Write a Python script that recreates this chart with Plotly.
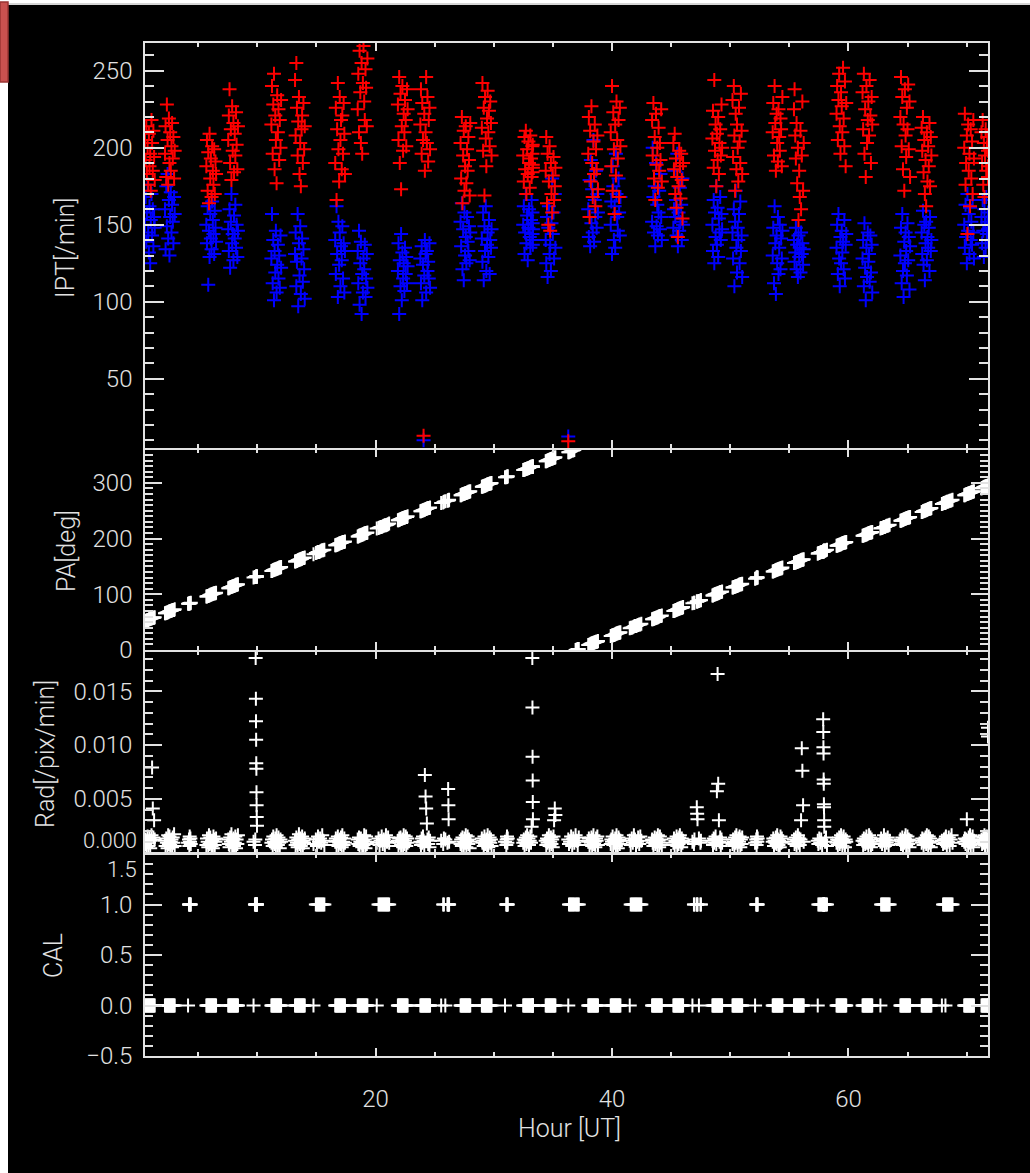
import plotly.graph_objects as go

# ---------------- data ----------------
# observation times [hour UT]; one line per observing block
HOURS = [
    0.50, 0.55, 0.61, 0.66, 0.72, 0.77, 0.83, 0.88, 0.94, 0.99, 1.05, 1.10, 1.16, 1.21, 1.27, 1.32,
    2.19, 2.24, 2.30, 2.35, 2.41, 2.46, 2.52, 2.57, 2.63, 2.68, 2.74, 2.79, 2.85, 2.90, 2.96, 3.01,
    4.14, 4.22, 4.25, 4.28, 4.31, 4.34, 4.37,
    5.69, 5.74, 5.80, 5.85, 5.91, 5.96, 6.02, 6.07, 6.13, 6.18, 6.24, 6.29, 6.35, 6.40, 6.46, 6.51,
    7.54, 7.59, 7.65, 7.70, 7.76, 7.81, 7.87, 7.92, 7.98, 8.03, 8.09, 8.14, 8.20, 8.25, 8.31, 8.36,
    9.68, 9.80, 9.83, 9.86, 9.88, 9.89, 9.90, 9.91, 9.92, 9.93, 9.94, 9.95, 9.97,
    11.19, 11.24, 11.30, 11.35, 11.41, 11.46, 11.52, 11.57, 11.63, 11.68, 11.74, 11.79, 11.85, 11.90, 11.96, 12.01,
    13.19, 13.24, 13.30, 13.35, 13.41, 13.46, 13.52, 13.57, 13.63, 13.68, 13.74, 13.79, 13.85, 13.90, 13.96, 14.01,
    14.75, 14.95, 15.04, 15.13, 15.22, 15.31, 15.40, 15.49, 15.58, 15.67,
    16.59, 16.64, 16.70, 16.75, 16.81, 16.86, 16.92, 16.97, 17.03, 17.08, 17.14, 17.19, 17.25, 17.30, 17.36, 17.41,
    18.49, 18.54, 18.60, 18.65, 18.71, 18.76, 18.82, 18.87, 18.93, 18.98, 19.04, 19.09, 19.15, 19.20, 19.26, 19.31,
    20.10, 20.25, 20.34, 20.43, 20.52, 20.61, 20.70, 20.79, 20.88, 20.97, 21.06, 21.15,
    21.89, 21.94, 22.00, 22.05, 22.11, 22.16, 22.22, 22.27, 22.33, 22.38, 22.44, 22.49, 22.55, 22.60, 22.66, 22.71,
    23.79, 23.84, 23.90, 23.95, 24.01, 24.06, 24.12, 24.17, 24.23, 24.28, 24.34, 24.39, 24.45, 24.50, 24.56, 24.61,
    25.55, 25.72, 25.78, 25.90, 26.08, 26.14, 26.16, 26.18, 26.22,
    27.19, 27.24, 27.30, 27.35, 27.41, 27.46, 27.52, 27.57, 27.63, 27.68, 27.74, 27.79, 27.85, 27.90, 27.96, 28.01,
    28.99, 29.04, 29.10, 29.15, 29.21, 29.26, 29.32, 29.37, 29.43, 29.48, 29.54, 29.59, 29.65, 29.70, 29.76, 29.81,
    30.95, 31.06, 31.09, 31.12, 31.15, 31.18,
    32.49, 32.54, 32.60, 32.65, 32.71, 32.76, 32.82, 32.87, 32.93, 32.98, 33.04, 33.09, 33.15, 33.20, 33.26, 33.31, 33.27, 33.28, 33.29, 33.30,
    34.39, 34.44, 34.50, 34.55, 34.61, 34.66, 34.72, 34.77, 34.83, 34.88, 34.94, 34.99, 35.05, 35.10, 35.16, 35.21,
    36.30, 36.36, 36.45, 36.54, 36.63, 36.72, 36.81, 36.92, 37.01, 37.10, 37.19,
    37.99, 38.04, 38.10, 38.15, 38.21, 38.26, 38.32, 38.37, 38.43, 38.48, 38.54, 38.59, 38.65, 38.70, 38.76, 38.81,
    39.89, 39.94, 40.00, 40.05, 40.11, 40.16, 40.22, 40.27, 40.33, 40.38, 40.44, 40.49, 40.55, 40.60, 40.66, 40.71,
    41.50, 41.58, 41.67, 41.76, 41.85, 41.94, 42.03, 42.12, 42.21, 42.30, 42.39, 42.48,
    43.39, 43.44, 43.50, 43.55, 43.61, 43.66, 43.72, 43.77, 43.83, 43.88, 43.94, 43.99, 44.05, 44.10, 44.16, 44.21,
    45.19, 45.24, 45.30, 45.35, 45.41, 45.46, 45.52, 45.57, 45.63, 45.68, 45.74, 45.79, 45.85, 45.90, 45.96, 46.01,
    46.80, 46.93, 46.97, 47.17, 47.20, 47.23, 47.35, 47.48, 47.52,
    48.49, 48.54, 48.60, 48.65, 48.71, 48.76, 48.82, 48.87, 48.93, 48.98, 49.04, 49.09, 49.15, 49.20, 49.26, 49.31,
    50.19, 50.24, 50.30, 50.35, 50.41, 50.46, 50.52, 50.57, 50.63, 50.68, 50.74, 50.79, 50.85, 50.90, 50.96, 51.01,
    52.10, 52.20, 52.23, 52.26, 52.29, 52.32,
    53.59, 53.64, 53.70, 53.75, 53.81, 53.86, 53.92, 53.97, 54.03, 54.08, 54.14, 54.19, 54.25, 54.30, 54.36, 54.41,
    55.39, 55.44, 55.50, 55.55, 55.61, 55.66, 55.72, 55.77, 55.83, 55.88, 55.94, 55.99, 56.05, 56.10, 56.16, 56.21,
    57.40, 57.45, 57.53, 57.61, 57.69, 57.77, 57.86, 57.87, 57.88, 57.89, 57.90, 57.91, 57.92, 57.93, 57.94, 57.95, 58.02, 58.10, 58.18,
    58.99, 59.04, 59.10, 59.15, 59.21, 59.26, 59.32, 59.37, 59.43, 59.48, 59.54, 59.59, 59.65, 59.70, 59.76, 59.81,
    61.19, 61.24, 61.30, 61.35, 61.41, 61.46, 61.52, 61.57, 61.63, 61.68, 61.74, 61.79, 61.85, 61.90, 61.96, 62.01,
    62.70, 62.76, 62.84, 62.92, 63.00, 63.08, 63.16, 63.24, 63.32, 63.40, 63.48,
    64.39, 64.44, 64.50, 64.55, 64.61, 64.66, 64.72, 64.77, 64.83, 64.88, 64.94, 64.99, 65.05, 65.10, 65.16, 65.21,
    66.19, 66.24, 66.30, 66.35, 66.41, 66.46, 66.52, 66.57, 66.63, 66.68, 66.74, 66.79, 66.85, 66.90, 66.96, 67.01,
    67.90, 68.00, 68.08, 68.16, 68.20, 68.24, 68.32, 68.40, 68.48, 68.56, 68.64, 68.72, 68.80,
    69.79, 69.84, 69.90, 69.95, 70.01, 70.06, 70.12, 70.17, 70.23, 70.28, 70.34, 70.39, 70.45, 70.50, 70.56, 70.61,
    71.25, 71.30, 71.35, 71.40, 71.45, 71.50, 71.55, 71.60, 71.65, 71.70, 71.75, 71.80, 71.80, 71.80,
]

# IPT count rate, red series [/min]
IPT_RED = [
    205, 192, 214, 183, 200, 176, 209, 188, 196, 172, 218, 203, 185, 211, 194, 179,
    196, 214, 181, 228, 205, 176, 219, 190, 210, 185, 201, 216, 193, 207, 180, 198,
    None, None, None, None, None, None, None,
    188, 205, 172, 197, 164, 209, 180, 193, 168, 201, 185, 176, 199, 170, 191, 183,
    205, 221, 238, 190, 212, 179, 227, 198, 216, 184, 209, 195, 223, 202, 186, 214,
    None, None, None, None, None, None, None, None, None, None, None, None, None,
    215, 240, 196, 228, 248, 186, 221, 205, 177, 234, 210, 225, 192, 218, 200, 231,
    244, 208, 255, 226, 195, 217, 233, 183, 203, 175, 212, 221, 190, 229, 199, 214,
    None, None, None, None, None, None, None, None, None, None,
    190, 226, 166, 212, 242, 199, 178, 233, 205, 218, 186, 221, 196, 229, 209, 183,
    225, 248, 210, 263, 236, 203, 255, 196, 242, 266, 230, 218, 251, 239, 214, 258,
    None, None, None, None, None, None, None, None, None, None, None, None,
    228, 205, 246, 190, 235, 173, 214, 240, 198, 222, 210, 231, 218, 201, 238, 225,
    215, 238, 196, 229, 205, 13, 222, 185, 210, 246, 203, 233, 191, 218, 226, 199,
    None, None, None, None, None, None, None, None, None,
    203, 180, 220, 164, 195, 211, 172, 188, 214, 177, 199, 185, 207, 192, 169, 216,
    213, 242, 198, 226, 169, 233, 206, 188, 219, 237, 210, 224, 201, 230, 216, 195,
    None, None, None, None, None, None,
    195, 178, 207, 186, 211, 170, 199, 183, 204, 190, 174, 208, 193, 181, 201, 187, 196, 184, 202, 189,
    185, 207, 164, 196, 150, 178, 201, 146, 190, 170, 158, 182, 194, 166, 175, 187,
    9.4, None, None, None, None, None, None, None, None, None, None,
    196, 220, 155, 211, 178, 227, 190, 168, 204, 183, 215, 162, 199, 186, 208, 173,
    210, 188, 240, 172, 223, 199, 157, 215, 182, 230, 205, 193, 218, 168, 226, 201,
    None, None, None, None, None, None, None, None, None, None, None, None,
    218, 195, 229, 180, 207, 166, 222, 189, 200, 174, 213, 185, 203, 192, 225, 178,
    203, 186, 209, 170, 193, 161, 181, 142, 175, 198, 188, 167, 196, 179, 154, 190,
    None, None, None, None, None, None, None, None, None,
    206, 224, 187, 244, 198, 215, 175, 209, 192, 220, 183, 203, 212, 195, 228, 200,
    231, 194, 240, 208, 172, 222, 186, 215, 200, 178, 226, 204, 190, 235, 211, 183,
    None, None, None, None, None, None,
    210, 229, 195, 240, 216, 185, 222, 203, 191, 225, 207, 198, 219, 212, 188, 233,
    225, 238, 208, 193, 216, 177, 200, 153, 185, 168, 211, 160, 195, 230, 172, 203,
    None, None, None, None, None, None, None, None, None, None, None, None, None, None, None, None, None, None, None,
    222, 240, 205, 231, 248, 214, 196, 236, 227, 210, 252, 219, 201, 243, 188, 229,
    236, 212, 248, 196, 225, 181, 240, 203, 218, 230, 208, 244, 221, 190, 233, 215,
    None, None, None, None, None, None, None, None, None, None, None,
    220, 246, 201, 233, 186, 215, 172, 238, 208, 194, 226, 212, 241, 199, 230, 181,
    213, 198, 220, 184, 205, 170, 192, 162, 210, 178, 201, 188, 216, 175, 207, 195,
    None, None, None, None, None, None, None, None, None, None, None, None, None,
    200, 222, 176, 190, 208, 144, 215, 185, 196, 162, 212, 180, 204, 170, 218, 193,
    210, 190, 218, 176, 203, 168, 195, 212, 185, 200, 207, 181, 198, 188,
]

# IPT count rate, blue series [/min]
IPT_BLUE = [
    150, 168, 139, 158, 176, 145, 132, 162, 125, 153, 170, 143, 160, 136, 155, 148,
    160, 134, 175, 149, 183, 141, 166, 130, 155, 171, 145, 163, 152, 138, 168, 157,
    None, None, None, None, None, None, None,
    150, 138, 162, 111, 146, 129, 157, 141, 134, 165, 153, 144, 131, 159, 148, 139,
    147, 133, 160, 122, 152, 170, 138, 144, 127, 156, 141, 163, 135, 150, 129, 146,
    None, None, None, None, None, None, None, None, None, None, None, None, None,
    128, 157, 112, 140, 101, 133, 119, 146, 106, 124, 137, 115, 130, 109, 143, 122,
    131, 145, 110, 126, 157, 97, 138, 117, 149, 105, 128, 141, 113, 134, 121, 102,
    None, None, None, None, None, None, None, None, None, None,
    140, 118, 162, 131, 103, 152, 124, 145, 110, 136, 127, 149, 115, 138, 106, 133,
    133, 112, 146, 98, 125, 139, 92, 118, 106, 128, 121, 137, 103, 115, 131, 109,
    None, None, None, None, None, None, None, None, None, None, None, None,
    120, 138, 92, 127, 110, 144, 101, 132, 115, 125, 107, 135, 118, 129, 112, 123,
    128, 112, 136, 101, 124, 10, 117, 140, 131, 106, 133, 120, 126, 115, 138, 109,
    None, None, None, None, None, None, None, None, None,
    152, 136, 164, 121, 147, 114, 158, 130, 142, 125, 155, 139, 133, 149, 127, 145,
    141, 126, 158, 114, 149, 133, 162, 120, 137, 145, 129, 153, 118, 140, 135, 147,
    None, None, None, None, None, None,
    150, 162, 131, 145, 170, 138, 156, 127, 148, 160, 142, 135, 153, 166, 140, 147, 158, 144, 151, 137,
    140, 125, 155, 116, 148, 162, 131, 137, 120, 151, 180, 144, 158, 128, 170, 135,
    12.5, None, None, None, None, None, None, None, None, None, None,
    160, 142, 179, 136, 192, 151, 173, 145, 205, 139, 166, 155, 185, 148, 170, 158,
    150, 165, 131, 188, 175, 140, 162, 135, 196, 170, 155, 146, 180, 158, 143, 168,
    None, None, None, None, None, None, None, None, None, None, None, None,
    152, 200, 168, 145, 175, 136, 190, 149, 163, 143, 158, 172, 147, 183, 155, 140,
    148, 160, 185, 155, 166, 143, 196, 136, 158, 146, 174, 152, 163, 140, 180, 150,
    None, None, None, None, None, None, None, None, None,
    150, 133, 166, 125, 158, 142, 175, 137, 161, 129, 154, 145, 168, 140, 157, 147,
    145, 128, 160, 110, 152, 172, 135, 119, 148, 140, 157, 125, 165, 133, 143, 116,
    None, None, None, None, None, None,
    130, 148, 112, 162, 138, 105, 143, 125, 155, 118, 135, 150, 121, 141, 128, 146,
    140, 126, 132, 148, 121, 137, 116, 143, 129, 135, 119, 145, 131, 138, 124, 134,
    None, None, None, None, None, None, None, None, None, None, None, None, None, None, None, None, None, None, None,
    135, 150, 118, 157, 128, 110, 142, 125, 146, 132, 139, 121, 153, 115, 137, 144,
    128, 140, 110, 151, 122, 101, 135, 116, 145, 126, 131, 113, 143, 119, 137, 106,
    None, None, None, None, None, None, None, None, None, None, None,
    130, 148, 112, 157, 120, 103, 139, 125, 145, 133, 117, 151, 127, 142, 108, 136,
    145, 131, 159, 124, 150, 114, 138, 152, 127, 142, 135, 148, 120, 155, 133, 140,
    None, None, None, None, None, None, None, None, None, None, None, None, None,
    150, 135, 163, 142, 125, 170, 146, 157, 131, 161, 140, 152, 137, 166, 145, 128,
    155, 138, 166, 146, 129, 160, 150, 135, 168, 144, 152, 140, 158, 147,
]

# position angle [deg]
PA_DEG = [
    52, 52, 53, 53, 54, 54, 55, 55, 56, 56, 57, 57, 58, 58, 58, 59,
    66, 66, 67, 67, 68, 68, 69, 69, 70, 70, 71, 71, 72, 72, 72, 73,
    83, 83, 84, 84, 84, 84, 85,
    96, 96, 97, 97, 98, 98, 99, 99, 100, 100, 101, 101, 102, 102, 102, 103,
    111, 111, 112, 112, 113, 113, 114, 114, 115, 115, 116, 116, 117, 117, 117, 118,
    130, 131, 131, 131, 131, 131, 131, 132, 132, 132, 132, 132, 132,
    142, 142, 143, 143, 144, 144, 145, 145, 146, 146, 147, 147, 148, 148, 148, 149,
    159, 159, 160, 160, 161, 161, 162, 162, 163, 163, 164, 164, 165, 165, 165, 166,
    172, 174, 175, 176, 176, 177, 178, 179, 179, 180,
    188, 188, 189, 189, 190, 190, 191, 191, 192, 192, 193, 193, 194, 194, 194, 195,
    204, 204, 205, 205, 206, 206, 207, 207, 208, 208, 209, 209, 210, 210, 210, 211,
    218, 219, 220, 221, 221, 222, 223, 224, 224, 225, 226, 227,
    233, 233, 234, 234, 235, 235, 236, 236, 237, 237, 238, 238, 239, 239, 239, 240,
    249, 249, 250, 250, 251, 251, 252, 252, 253, 253, 254, 254, 255, 255, 255, 256,
    264, 265, 266, 267, 268, 269, 269, 269, 270,
    278, 278, 279, 279, 280, 280, 281, 281, 282, 282, 283, 283, 284, 284, 284, 285,
    293, 293, 294, 294, 295, 295, 296, 296, 297, 297, 298, 298, 299, 299, 299, 300,
    310, 310, 311, 311, 311, 312,
    323, 323, 324, 324, 325, 325, 326, 326, 327, 327, 328, 328, 329, 329, 329, 330, 329, 329, 329, 329,
    339, 339, 340, 340, 341, 341, 342, 342, 343, 343, 344, 344, 345, 345, 345, 346,
    355, 355, 356, 357, 358, 358, 359, 0, 1, 2, 2,
    9, 9, 10, 10, 11, 11, 12, 12, 13, 13, 14, 14, 15, 15, 15, 16,
    25, 25, 26, 26, 27, 27, 28, 28, 29, 29, 30, 30, 31, 31, 31, 32,
    39, 40, 40, 41, 42, 43, 43, 44, 45, 46, 46, 47,
    55, 55, 56, 56, 57, 57, 58, 58, 59, 59, 60, 60, 61, 61, 61, 62,
    70, 70, 71, 71, 72, 72, 73, 73, 74, 74, 75, 75, 76, 76, 76, 77,
    84, 85, 85, 87, 87, 87, 88, 89, 90,
    98, 98, 99, 99, 100, 100, 101, 101, 102, 102, 103, 103, 104, 104, 104, 105,
    112, 112, 113, 113, 114, 114, 115, 115, 116, 116, 117, 117, 118, 118, 118, 119,
    128, 129, 130, 130, 130, 130,
    141, 141, 142, 142, 143, 143, 144, 144, 145, 145, 146, 146, 147, 147, 147, 148,
    156, 156, 157, 157, 158, 158, 159, 159, 160, 160, 161, 161, 162, 162, 162, 163,
    173, 174, 174, 175, 176, 176, 177, 177, 177, 177, 177, 178, 178, 178, 178, 178, 178, 179, 180,
    187, 187, 188, 188, 189, 189, 190, 190, 191, 191, 192, 192, 193, 193, 193, 194,
    205, 205, 206, 206, 207, 207, 208, 208, 209, 209, 210, 210, 211, 211, 211, 212,
    218, 219, 219, 220, 221, 221, 222, 223, 223, 224, 225,
    232, 232, 233, 233, 234, 234, 235, 235, 236, 236, 237, 237, 238, 238, 238, 239,
    248, 248, 249, 249, 250, 250, 251, 251, 252, 252, 253, 253, 254, 254, 254, 255,
    262, 263, 264, 264, 265, 265, 266, 266, 267, 268, 268, 269, 270,
    278, 278, 279, 279, 280, 280, 281, 281, 282, 282, 283, 283, 284, 284, 284, 285,
    290, 291, 291, 292, 292, 293, 293, 294, 294, 294, 295, 295, 295, 295,
]

# radiation background [/pix/min]
RAD = [
    0.0008, 0.0012, 0.0005, 0.0010, 0.0015, 0.0006, 0.0009, 0.0013, 0.0004, 0.0011, 0.0016, 0.0079, 0.0041, 0.0014, 0.0030, 0.0012,
    0.0011, 0.0006, 0.0013, 0.0009, 0.0004, 0.0016, 0.0008, 0.0015, 0.0007, 0.0010, 0.0012, 0.0005, 0.0014, 0.0009, 0.0017, 0.0006,
    0.0009, 0.0012, 0.0006, 0.0015, 0.0010, 0.0013, 0.0008,
    0.0007, 0.0013, 0.0010, 0.0005, 0.0016, 0.0008, 0.0014, 0.0009, 0.0006, 0.0011, 0.0004, 0.0015, 0.0012, 0.0007, 0.0010, 0.0013,
    0.0012, 0.0008, 0.0005, 0.0014, 0.0010, 0.0017, 0.0007, 0.0011, 0.0013, 0.0006, 0.0009, 0.0015, 0.0004, 0.0012, 0.0008, 0.0016,
    0.0010, 0.0007, 0.0012, 0.0181, 0.0143, 0.0122, 0.0105, 0.0083, 0.0078, 0.0056, 0.0044, 0.0033, 0.0025,
    0.0009, 0.0012, 0.0006, 0.0015, 0.0010, 0.0008, 0.0013, 0.0005, 0.0016, 0.0011, 0.0007, 0.0014, 0.0009, 0.0004, 0.0012, 0.0010,
    0.0011, 0.0007, 0.0014, 0.0009, 0.0005, 0.0012, 0.0017, 0.0008, 0.0013, 0.0006, 0.0010, 0.0015, 0.0004, 0.0011, 0.0009, 0.0013,
    0.0008, 0.0012, 0.0006, 0.0015, 0.0010, 0.0013, 0.0009, 0.0016, 0.0011, 0.0007,
    0.0010, 0.0013, 0.0007, 0.0011, 0.0015, 0.0006, 0.0009, 0.0012, 0.0008, 0.0014, 0.0005, 0.0016, 0.0010, 0.0007, 0.0013, 0.0009,
    0.0012, 0.0008, 0.0014, 0.0006, 0.0010, 0.0013, 0.0009, 0.0005, 0.0011, 0.0007, 0.0016, 0.0012, 0.0004, 0.0015, 0.0008, 0.0010,
    0.0009, 0.0013, 0.0007, 0.0011, 0.0015, 0.0008, 0.0012, 0.0006, 0.0016, 0.0010, 0.0014, 0.0009,
    0.0011, 0.0006, 0.0013, 0.0009, 0.0014, 0.0007, 0.0010, 0.0012, 0.0005, 0.0016, 0.0008, 0.0011, 0.0015, 0.0006, 0.0013, 0.0009,
    0.0010, 0.0007, 0.0013, 0.0009, 0.0015, 0.0011, 0.0006, 0.0072, 0.0052, 0.0041, 0.0027, 0.0012, 0.0008, 0.0014, 0.0005, 0.0011,
    0.0011, 0.0008, 0.0013, 0.0012, 0.0009, 0.0059, 0.0044, 0.0031, 0.0010,
    0.0008, 0.0012, 0.0006, 0.0014, 0.0010, 0.0007, 0.0013, 0.0009, 0.0016, 0.0005, 0.0011, 0.0015, 0.0008, 0.0012, 0.0004, 0.0010,
    0.0013, 0.0009, 0.0011, 0.0006, 0.0015, 0.0008, 0.0010, 0.0012, 0.0007, 0.0016, 0.0005, 0.0011, 0.0014, 0.0009, 0.0012, 0.0006,
    0.0010, 0.0007, 0.0012, 0.0015, 0.0009, 0.0013,
    0.0009, 0.0012, 0.0006, 0.0011, 0.0014, 0.0008, 0.0016, 0.0010, 0.0013, 0.0007, 0.0011, 0.0015, 0.0009, 0.0024, 0.0181, 0.0031, 0.0135, 0.0089, 0.0067, 0.0047,
    0.0011, 0.0007, 0.0013, 0.0009, 0.0012, 0.0016, 0.0006, 0.0010, 0.0014, 0.0008, 0.0012, 0.0005, 0.0015, 0.0030, 0.0041, 0.0035,
    0.0012, 0.0008, 0.0010, 0.0015, 0.0006, 0.0013, 0.0009, 0.0016, 0.0011, 0.0007, 0.0014,
    0.0010, 0.0013, 0.0007, 0.0011, 0.0009, 0.0014, 0.0006, 0.0012, 0.0016, 0.0008, 0.0010, 0.0005, 0.0013, 0.0011, 0.0015, 0.0007,
    0.0008, 0.0012, 0.0010, 0.0015, 0.0007, 0.0011, 0.0009, 0.0013, 0.0006, 0.0016, 0.0010, 0.0004, 0.0014, 0.0012, 0.0008, 0.0011,
    0.0011, 0.0007, 0.0013, 0.0009, 0.0016, 0.0012, 0.0006, 0.0010, 0.0014, 0.0008, 0.0015, 0.0011,
    0.0012, 0.0009, 0.0006, 0.0011, 0.0014, 0.0008, 0.0010, 0.0013, 0.0007, 0.0016, 0.0011, 0.0005, 0.0015, 0.0009, 0.0012, 0.0007,
    0.0009, 0.0013, 0.0007, 0.0011, 0.0010, 0.0015, 0.0006, 0.0012, 0.0008, 0.0014, 0.0016, 0.0010, 0.0005, 0.0013, 0.0009, 0.0011,
    0.0010, 0.0008, 0.0012, 0.0042, 0.0036, 0.0031, 0.0013, 0.0009, 0.0011,
    0.0011, 0.0007, 0.0013, 0.0009, 0.0012, 0.0015, 0.0008, 0.0057, 0.0166, 0.0064, 0.0030, 0.0010, 0.0014, 0.0006, 0.0012, 0.0009,
    0.0008, 0.0012, 0.0010, 0.0006, 0.0014, 0.0009, 0.0016, 0.0011, 0.0007, 0.0013, 0.0010, 0.0015, 0.0005, 0.0012, 0.0008, 0.0014,
    0.0009, 0.0012, 0.0007, 0.0015, 0.0010, 0.0013,
    0.0010, 0.0013, 0.0006, 0.0011, 0.0009, 0.0014, 0.0008, 0.0016, 0.0012, 0.0007, 0.0011, 0.0005, 0.0015, 0.0009, 0.0013, 0.0010,
    0.0012, 0.0008, 0.0010, 0.0014, 0.0006, 0.0011, 0.0016, 0.0009, 0.0013, 0.0007, 0.0012, 0.0030, 0.0097, 0.0076, 0.0044, 0.0010,
    0.0011, 0.0008, 0.0013, 0.0009, 0.0012, 0.0007, 0.0124, 0.0112, 0.0098, 0.0092, 0.0068, 0.0064, 0.0045, 0.0042, 0.0030, 0.0024, 0.0010, 0.0014, 0.0006,
    0.0009, 0.0012, 0.0007, 0.0011, 0.0014, 0.0008, 0.0010, 0.0016, 0.0013, 0.0006, 0.0011, 0.0015, 0.0009, 0.0005, 0.0012, 0.0010,
    0.0011, 0.0007, 0.0013, 0.0010, 0.0008, 0.0012, 0.0015, 0.0009, 0.0011, 0.0006, 0.0016, 0.0010, 0.0014, 0.0005, 0.0012, 0.0008,
    0.0010, 0.0013, 0.0008, 0.0011, 0.0016, 0.0006, 0.0012, 0.0009, 0.0014, 0.0007, 0.0011,
    0.0012, 0.0008, 0.0010, 0.0014, 0.0007, 0.0011, 0.0009, 0.0013, 0.0016, 0.0006, 0.0010, 0.0015, 0.0008, 0.0012, 0.0005, 0.0011,
    0.0009, 0.0013, 0.0011, 0.0007, 0.0012, 0.0010, 0.0014, 0.0008, 0.0016, 0.0011, 0.0006, 0.0015, 0.0009, 0.0013, 0.0005, 0.0010,
    0.0011, 0.0008, 0.0012, 0.0009, 0.0013, 0.0015, 0.0007, 0.0010, 0.0014, 0.0006, 0.0012, 0.0016, 0.0009,
    0.0010, 0.0013, 0.0008, 0.0012, 0.0031, 0.0011, 0.0006, 0.0014, 0.0009, 0.0016, 0.0007, 0.0012, 0.0010, 0.0015, 0.0005, 0.0011,
    0.0012, 0.0008, 0.0011, 0.0014, 0.0009, 0.0016, 0.0007, 0.0013, 0.0010, 0.0015, 0.0006, 0.0012, 0.0116, 0.0108,
]

# calibration flag
CAL = [
    0, 0, 0, 0, 0, 0, 0, 0, 0, 0, 0, 0, 0, 0, 0, 0,
    0, 0, 0, 0, 0, 0, 0, 0, 0, 0, 0, 0, 0, 0, 0, 0,
    0, 1, 1, 1, 1, 1, 1,
    0, 0, 0, 0, 0, 0, 0, 0, 0, 0, 0, 0, 0, 0, 0, 0,
    0, 0, 0, 0, 0, 0, 0, 0, 0, 0, 0, 0, 0, 0, 0, 0,
    0, 1, 1, 1, 1, 1, 1, 1, 1, 1, 1, 1, 1,
    0, 0, 0, 0, 0, 0, 0, 0, 0, 0, 0, 0, 0, 0, 0, 0,
    0, 0, 0, 0, 0, 0, 0, 0, 0, 0, 0, 0, 0, 0, 0, 0,
    0, 1, 1, 1, 1, 1, 1, 1, 1, 1,
    0, 0, 0, 0, 0, 0, 0, 0, 0, 0, 0, 0, 0, 0, 0, 0,
    0, 0, 0, 0, 0, 0, 0, 0, 0, 0, 0, 0, 0, 0, 0, 0,
    0, 1, 1, 1, 1, 1, 1, 1, 1, 1, 1, 1,
    0, 0, 0, 0, 0, 0, 0, 0, 0, 0, 0, 0, 0, 0, 0, 0,
    0, 0, 0, 0, 0, 0, 0, 0, 0, 0, 0, 0, 0, 0, 0, 0,
    0, 1, 1, 0, 1, 1, 1, 1, 1,
    0, 0, 0, 0, 0, 0, 0, 0, 0, 0, 0, 0, 0, 0, 0, 0,
    0, 0, 0, 0, 0, 0, 0, 0, 0, 0, 0, 0, 0, 0, 0, 0,
    0, 1, 1, 1, 1, 1,
    0, 0, 0, 0, 0, 0, 0, 0, 0, 0, 0, 0, 0, 0, 0, 0, 0, 0, 0, 0,
    0, 0, 0, 0, 0, 0, 0, 0, 0, 0, 0, 0, 0, 0, 0, 0,
    0, 1, 1, 1, 1, 1, 1, 1, 1, 1, 1,
    0, 0, 0, 0, 0, 0, 0, 0, 0, 0, 0, 0, 0, 0, 0, 0,
    0, 0, 0, 0, 0, 0, 0, 0, 0, 0, 0, 0, 0, 0, 0, 0,
    0, 1, 1, 1, 1, 1, 1, 1, 1, 1, 1, 1,
    0, 0, 0, 0, 0, 0, 0, 0, 0, 0, 0, 0, 0, 0, 0, 0,
    0, 0, 0, 0, 0, 0, 0, 0, 0, 0, 0, 0, 0, 0, 0, 0,
    0, 1, 1, 1, 1, 1, 0, 1, 1,
    0, 0, 0, 0, 0, 0, 0, 0, 0, 0, 0, 0, 0, 0, 0, 0,
    0, 0, 0, 0, 0, 0, 0, 0, 0, 0, 0, 0, 0, 0, 0, 0,
    0, 1, 1, 1, 1, 1,
    0, 0, 0, 0, 0, 0, 0, 0, 0, 0, 0, 0, 0, 0, 0, 0,
    0, 0, 0, 0, 0, 0, 0, 0, 0, 0, 0, 0, 0, 0, 0, 0,
    0, 1, 1, 1, 1, 1, 1, 1, 1, 1, 1, 1, 1, 1, 1, 1, 1, 1, 1,
    0, 0, 0, 0, 0, 0, 0, 0, 0, 0, 0, 0, 0, 0, 0, 0,
    0, 0, 0, 0, 0, 0, 0, 0, 0, 0, 0, 0, 0, 0, 0, 0,
    0, 1, 1, 1, 1, 1, 1, 1, 1, 1, 1,
    0, 0, 0, 0, 0, 0, 0, 0, 0, 0, 0, 0, 0, 0, 0, 0,
    0, 0, 0, 0, 0, 0, 0, 0, 0, 0, 0, 0, 0, 0, 0, 0,
    0, 1, 1, 1, 0, 1, 1, 1, 1, 1, 1, 1, 1,
    0, 0, 0, 0, 0, 0, 0, 0, 0, 0, 0, 0, 0, 0, 0, 0,
    0, 0, 0, 0, 0, 0, 0, 0, 0, 0, 0, 0, 0, 0,
]

X_RANGE = [0.5, 71.8]
IPT_RANGE = [5, 268]
PA_RANGE = [0, 360]
RAD_RANGE = [0, 0.0187]
CAL_RANGE = [-0.5, 1.5]

PANEL_TITLES = ["IPT[/min]", "PA[deg]", "Rad[/pix/min]", "CAL"]
X_TITLE = "Hour [UT]"

# ---------------- checks ----------------
_n = len(HOURS)
for _name, _arr in [("IPT_RED", IPT_RED), ("IPT_BLUE", IPT_BLUE),
                    ("PA_DEG", PA_DEG), ("RAD", RAD), ("CAL", CAL)]:
    if len(_arr) != _n:
        raise ValueError(f"{_name} has {len(_arr)} values, HOURS has {_n}")

# ---------------- figure ----------------
W, H = 1030, 1173
AX = "#e2e2e2"
FONT = "Roboto"
FW = 300
LW = 1.5


def fx(px):
    return px / W


def fy(py):
    return 1 - py / H


def cross(color):
    return dict(symbol="cross-thin", size=10, color=color,
                line=dict(width=2, color=color))


fig = go.Figure()
fig.add_trace(go.Scatter(x=HOURS, y=IPT_BLUE, mode="markers", marker=cross("#0000ff"),
                         xaxis="x", yaxis="y", showlegend=False))
fig.add_trace(go.Scatter(x=HOURS, y=IPT_RED, mode="markers", marker=cross("#ff0000"),
                         xaxis="x", yaxis="y", showlegend=False))
fig.add_trace(go.Scatter(x=HOURS, y=PA_DEG, mode="markers", marker=cross("#ffffff"),
                         xaxis="x2", yaxis="y2", showlegend=False))
fig.add_trace(go.Scatter(x=HOURS, y=RAD, mode="markers", marker=cross("#ffffff"),
                         xaxis="x3", yaxis="y3", showlegend=False))
fig.add_trace(go.Scatter(x=HOURS, y=CAL, mode="markers", marker=cross("#ffffff"),
                         xaxis="x4", yaxis="y4", showlegend=False))

# panel pixel boundaries (top, bottom); neighbours overlap by one line width so the
# outward-drawn frame lines of adjacent panels coincide into a single line
PANELS = [(43, 448), (448 + LW, 650), (650 + LW, 852.5), (852.5 + LW, 1056)]
XDOM = [fx(145), fx(988)]
TICKFONT = dict(family=FONT, size=24, color=AX, weight=FW)


def xaxis(anchor, labels):
    return dict(domain=XDOM, range=X_RANGE, anchor=anchor,
                showline=True, linecolor=AX, linewidth=LW, mirror="allticks",
                ticks="inside", ticklen=8, tickwidth=1.5, tickcolor=AX,
                tickmode="linear", tick0=0, dtick=20,
                minor=dict(ticks="inside", ticklen=4, tickwidth=1.5, tickcolor=AX,
                           tick0=0, dtick=5, showgrid=False),
                showgrid=False, zeroline=False, showticklabels=labels,
                automargin=False, ticklabelstandoff=20, tickfont=TICKFONT)


def yaxis(i, anchor, rng, dtick, mdtick, fmt, ticklen, alias=None):
    top, bot = PANELS[i]
    d = dict(domain=[fy(bot), fy(top)], range=rng, anchor=anchor,
             showline=True, linecolor=AX, linewidth=LW, mirror="allticks",
             ticks="inside", ticklen=ticklen, tickwidth=1.5, tickcolor=AX,
             tickmode="linear", tick0=0, dtick=dtick, tickformat=fmt,
             minor=dict(ticks="inside", ticklen=ticklen // 2, tickwidth=1.5, tickcolor=AX,
                        tick0=0, dtick=mdtick, showgrid=False),
             showgrid=False, zeroline=False, automargin=False, ticklabelstandoff=6,
             tickfont=TICKFONT)
    if alias:
        d["labelalias"] = alias
    return d


fig.update_layout(
    width=W, height=H, autosize=False,
    margin=dict(l=0, r=0, t=0, b=0, pad=0, autoexpand=False),
    paper_bgcolor="#ffffff", plot_bgcolor="#000000",
    xaxis=xaxis("y", False), xaxis2=xaxis("y2", False),
    xaxis3=xaxis("y3", False), xaxis4=xaxis("y4", True),
    yaxis=yaxis(0, "x", IPT_RANGE, 50, 10, "d", 19),
    yaxis2=yaxis(1, "x2", PA_RANGE, 100, 10, "d", 17),
    yaxis3=yaxis(2, "x3", RAD_RANGE, 0.005, 0.001, ".3f", 17, {"0.000": " "}),
    yaxis4=yaxis(3, "x4", CAL_RANGE, 0.5, 0.1, ".1f", 17, {"1.5": " "}),
)

shapes = [
    dict(type="rect", xref="paper", yref="paper", x0=fx(8), x1=1, y0=0, y1=fy(5),
         fillcolor="#000000", line=dict(width=0), layer="below"),
    dict(type="line", xref="paper", yref="paper", x0=fx(8), x1=1, y0=fy(4), y1=fy(4),
         line=dict(color="#c8c8c8", width=1.5)),
    dict(type="rect", xref="paper", yref="paper", x0=0, x1=fx(8), y0=fy(82), y1=fy(2),
         fillcolor="#c9514f", line=dict(color="#9b3533", width=1.5)),
]
fig.update_layout(shapes=shapes)

TITLEFONT = dict(family=FONT, size=25, color=AX, weight=FW)
EDGEFONT = dict(family=FONT, size=22, color=AX, weight=FW)
ann = []
title_pos = [(65, 248), (66, 551), (45, 754), (53, 956)]
for t, (px, py) in zip(PANEL_TITLES, title_pos):
    ann.append(dict(text=t, xref="paper", yref="paper", x=fx(px), y=fy(py),
                    xanchor="center", yanchor="middle", textangle=-90, showarrow=False,
                    font=TITLEFONT))
ann.append(dict(text=X_TITLE, xref="paper", yref="paper", x=fx(569), y=fy(1128),
                xanchor="center", yanchor="middle", showarrow=False, font=TITLEFONT))
# the two stacked-edge labels that IDL nudges apart
ann.append(dict(text="0.000", xref="paper", yref="paper", x=fx(139), y=fy(840),
                xanchor="right", yanchor="middle", showarrow=False, font=EDGEFONT))
ann.append(dict(text="1.5", xref="paper", yref="paper", x=fx(139), y=fy(869),
                xanchor="right", yanchor="middle", showarrow=False, font=EDGEFONT))
fig.update_layout(annotations=ann)

fig.write_html("out.html", config={"displayModeBar": False},
               post_script="document.body.style.margin='0px';document.body.style.overflow='hidden';")
